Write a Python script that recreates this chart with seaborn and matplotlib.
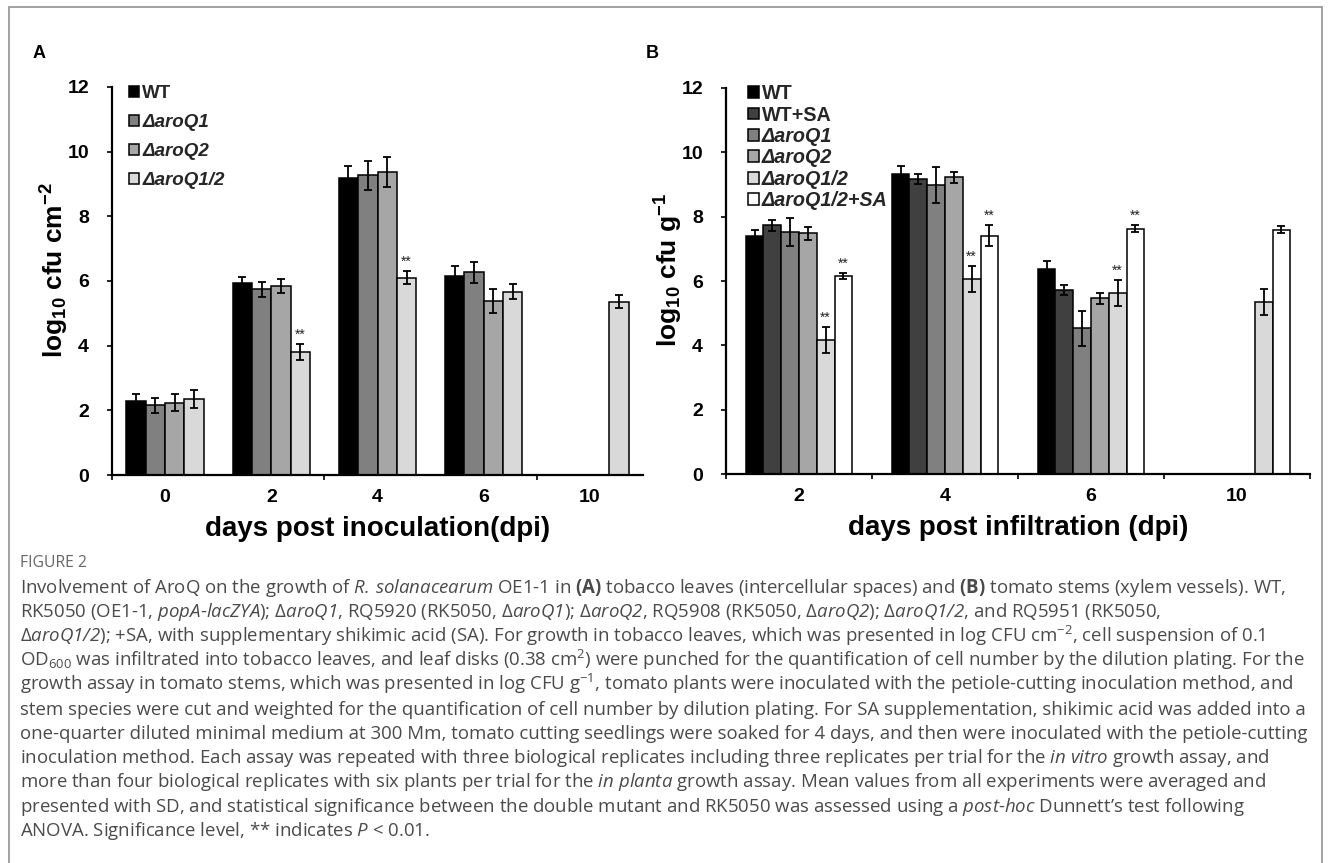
import numpy as np
import pandas as pd
import matplotlib
matplotlib.use("Agg")
import matplotlib.pyplot as plt
import seaborn as sns
from matplotlib.patches import Rectangle

W, H, DPI = 1331, 863, 100

# ---------------- data: panel A (tobacco leaves) ----------------
A_days = ["0", "2", "4", "6", "10"]
A_strains = ["WT", "ΔaroQ1", "ΔaroQ2", "ΔaroQ1/2"]
A_WT = [2.30, 5.93, 9.18, 6.15, np.nan]
A_Q1 = [2.15, 5.74, 9.27, 6.27, np.nan]
A_Q2 = [2.24, 5.85, 9.38, 5.38, np.nan]
A_Q12 = [2.34, 3.80, 6.10, 5.67, 5.36]
A_WT_sd = [0.20, 0.18, 0.38, 0.30, np.nan]
A_Q1_sd = [0.22, 0.22, 0.45, 0.33, np.nan]
A_Q2_sd = [0.25, 0.22, 0.47, 0.36, np.nan]
A_Q12_sd = [0.28, 0.25, 0.20, 0.24, 0.20]
A_sig = [(1, 3), (2, 3)]  # (day index, strain index) marked **

# ---------------- data: panel B (tomato stems) ----------------
B_days = ["2", "4", "6", "10"]
B_strains = ["WT", "WT+SA", "ΔaroQ1", "ΔaroQ2", "ΔaroQ1/2", "ΔaroQ1/2+SA"]
B_WT = [7.40, 9.33, 6.36, np.nan]
B_WTSA = [7.73, 9.17, 5.72, np.nan]
B_Q1 = [7.53, 8.98, 4.53, np.nan]
B_Q2 = [7.48, 9.23, 5.47, np.nan]
B_Q12 = [4.17, 6.07, 5.62, 5.34]
B_Q12SA = [6.15, 7.41, 7.63, 7.60]
B_WT_sd = [0.18, 0.25, 0.26, np.nan]
B_WTSA_sd = [0.17, 0.15, 0.15, np.nan]
B_Q1_sd = [0.44, 0.55, 0.55, np.nan]
B_Q2_sd = [0.20, 0.17, 0.17, np.nan]
B_Q12_sd = [0.40, 0.40, 0.41, 0.40]
B_Q12SA_sd = [0.10, 0.33, 0.11, 0.10]
B_sig = [(0, 4), (0, 5), (1, 4), (1, 5), (2, 4), (2, 5)]

A_colors = ["#000000", "#808080", "#a6a6a6", "#d9d9d9"]
B_colors = ["#000000", "#404040", "#808080", "#a6a6a6", "#d9d9d9", "#ffffff"]

A_ylabel = r"log$_{\mathregular{10}}$ cfu cm$^{\mathregular{-2}}$"
B_ylabel = r"log$_{\mathregular{10}}$ cfu g$^{\mathregular{-1}}$"
A_xlabel = "days post inoculation(dpi)"
B_xlabel = "days post infiltration (dpi)"

caption_title = "FIGURE 2"
caption_lines = [
    r"Involvement of AroQ on the growth of $\mathsf{R.\,solanacearum}$ OE1-1 in $\mathbf{(A)}$ tobacco leaves (intercellular spaces) and $\mathbf{(B)}$ tomato stems (xylem vessels). WT,",
    r"RK5050 (OE1-1, $\mathsf{popA}$-$\mathsf{lacZYA}$); Δ$\mathsf{aroQ1}$, RQ5920 (RK5050, Δ$\mathsf{aroQ1}$); Δ$\mathsf{aroQ2}$, RQ5908 (RK5050, Δ$\mathsf{aroQ2}$); Δ$\mathsf{aroQ1/2}$, and RQ5951 (RK5050,",
    r"Δ$\mathsf{aroQ1/2}$); +SA, with supplementary shikimic acid (SA). For growth in tobacco leaves, which was presented in log CFU cm$^{\mathregular{-2}}$, cell suspension of 0.1",
    r"OD$_{\mathregular{600}}$ was infiltrated into tobacco leaves, and leaf disks (0.38 cm$^{\mathregular{2}}$) were punched for the quantification of cell number by the dilution plating. For the",
    r"growth assay in tomato stems, which was presented in log CFU g$^{\mathregular{-1}}$, tomato plants were inoculated with the petiole-cutting inoculation method, and",
    "stem species were cut and weighted for the quantification of cell number by dilution plating. For SA supplementation, shikimic acid was added into a",
    "one-quarter diluted minimal medium at 300 Mm, tomato cutting seedlings were soaked for 4 days, and then were inoculated with the petiole-cutting",
    r"inoculation method. Each assay was repeated with three biological replicates including three replicates per trial for the $\mathsf{in}$ $\mathsf{vitro}$ growth assay, and",
    r"more than four biological replicates with six plants per trial for the $\mathsf{in}$ $\mathsf{planta}$ growth assay. Mean values from all experiments were averaged and",
    r"presented with SD, and statistical significance between the double mutant and RK5050 was assessed using a $\mathsf{post}$-$\mathsf{hoc}$ Dunnett’s test following",
    r"ANOVA. Significance level, ** indicates $\mathsf{P}$ < 0.01.",
]

# ---------------- style ----------------
sns.set_theme(style="white")
plt.rcParams["font.family"] = ["Liberation Sans", "DejaVu Sans"]
plt.rcParams["mathtext.fontset"] = "custom"
plt.rcParams["mathtext.rm"] = "Open Sans"
plt.rcParams["mathtext.it"] = "Open Sans:italic"
plt.rcParams["mathtext.sf"] = "Open Sans:italic"
plt.rcParams["mathtext.bf"] = "Open Sans:bold"

fig = plt.figure(figsize=(W / DPI, H / DPI), dpi=DPI)
fig.patch.set_facecolor("white")


def px_axes(l, r, t, b):
    return fig.add_axes([l / W, 1 - b / H, (r - l) / W, (b - t) / H])


def draw_panel(ax, days, strains, vals, sds, colors, sig, width, boundaries,
               ylabel, xlabel, leg_size, leg_spacing, leg_anchor, ylab_off):
    rows = []
    for s, v in zip(strains, vals):
        for d, y in zip(days, v):
            if not np.isnan(y):
                rows.append(dict(dpi=d, strain=s, val=y))
    df = pd.DataFrame(rows)
    sns.barplot(data=df, x="dpi", y="val", hue="strain", order=days,
                hue_order=strains, palette=dict(zip(strains, colors)),
                width=width, edgecolor="black", linewidth=1.1, errorbar=None,
                saturation=1, ax=ax)
    n = len(strains)
    bw = width / n
    for i, (v, e) in enumerate(zip(vals, sds)):
        x = np.arange(len(days)) + (i - (n - 1) / 2) * bw
        ax.errorbar(x, v, yerr=e, fmt="none", ecolor="black", elinewidth=1.3,
                    capsize=3, capthick=1.3, zorder=5)
    for di, si in sig:
        x = di + (si - (n - 1) / 2) * bw
        top = vals[si][di] + sds[si][di]
        ax.annotate("**", xy=(x, top), xytext=(0, 1.5), textcoords="offset points",
                    ha="center", va="bottom", fontsize=10, color="#222222")
    ax.set_xlim(-0.5, len(days) - 0.5)
    ax.set_ylim(0, 12)
    ax.set_yticks(range(0, 13, 2))
    ax.set_xticks(range(len(days)))
    ax.set_xticklabels(days)
    ax.set_xticks(boundaries, minor=True)
    ax.tick_params(axis="x", which="major", length=0, pad=10, labelsize=14,
                   labelcolor="black")
    ax.tick_params(axis="x", which="minor", length=3.6, width=1.2,
                   direction="out", color="black", bottom=True)
    ax.tick_params(axis="y", which="major", length=3.6, width=1.2,
                   direction="out", color="black", left=True, pad=13,
                   labelsize=14, labelcolor="black")
    for lab in ax.get_xticklabels() + ax.get_yticklabels():
        lab.set_fontweight("bold")
    sns.despine(ax=ax)
    for sp in ("left", "bottom"):
        ax.spines[sp].set_linewidth(1.6)
        ax.spines[sp].set_color("black")
    ax.set_facecolor("white")
    ax.grid(False)
    ax.set_ylabel(ylabel, fontsize=19, fontweight="bold", color="black")
    ax.set_xlabel(xlabel, fontsize=20, fontweight="bold", color="black",
                  labelpad=7)
    ax.yaxis.set_label_coords(ylab_off, 0.528)
    h, l = ax.get_legend_handles_labels()
    leg = ax.legend(h, l, loc="upper left", bbox_to_anchor=leg_anchor,
                    frameon=False,
                    prop=dict(family="Liberation Sans", weight="bold", size=leg_size),
                    handlelength=0.55, handleheight=0.55, handletextpad=0.15,
                    labelspacing=leg_spacing, borderpad=0, borderaxespad=0)
    for t in leg.get_texts():
        if t.get_text().startswith("Δ"):
            t.set_fontstyle("italic")


axA = px_axes(112, 643, 87, 475)
axB = px_axes(726, 1310, 88, 474)

draw_panel(axA, A_days, A_strains, [A_WT, A_Q1, A_Q2, A_Q12],
           [A_WT_sd, A_Q1_sd, A_Q2_sd, A_Q12_sd], A_colors, A_sig, 0.73,
           [-0.5, 1.5, 3.5], A_ylabel, A_xlabel, 13.5, 0.64,
           ((129 - 112) / 531, 1.005), -41 / 531)
draw_panel(axB, B_days, B_strains, [B_WT, B_WTSA, B_Q1, B_Q2, B_Q12, B_Q12SA],
           [B_WT_sd, B_WTSA_sd, B_Q1_sd, B_Q2_sd, B_Q12_sd, B_Q12SA_sd],
           B_colors, B_sig, 0.73, [-0.5, 0.5, 1.5, 2.5, 3.5], B_ylabel,
           B_xlabel, 14.2, 0.12, ((748 - 726) / 584, 1.01), -41 / 584)

# panel letters
fig.text(39 / W, 1 - 53 / H, "A", fontsize=13, fontweight="bold", ha="center",
         va="center", color="black")
fig.text(652 / W, 1 - 53 / H, "B", fontsize=13, fontweight="bold", ha="center",
         va="center", color="black")

# frame
fig.add_artist(Rectangle((9 / W, -0.05), (1322 - 9) / W, 1.05 - 7 / H,
                         transform=fig.transFigure, fill=False,
                         edgecolor="#9a9a9a", linewidth=1.3))

# caption
cap_color = "#4a4a4a"
cap_family = ["Open Sans", "DejaVu Sans"]
x0 = 20
renderer = fig.canvas.get_renderer()
probe = fig.text(x0 / W, 0.5, caption_lines[3], fontsize=11, family=cap_family)
wprobe = probe.get_window_extent(renderer=renderer).width
probe.remove()
cap_size = 11 * (1300 - x0) / wprobe

fig.text(x0 / W, 1 - 567 / H, caption_title, fontsize=cap_size * 0.85,
         family=cap_family, color="#666666", va="baseline", ha="left")
for k, line in enumerate(caption_lines):
    yb = 593 + 24.3 * k
    fig.text(x0 / W, 1 - yb / H, line, fontsize=cap_size, family=cap_family,
             color=cap_color, va="baseline", ha="left")

fig.savefig("out.png", dpi=DPI, facecolor="white")
